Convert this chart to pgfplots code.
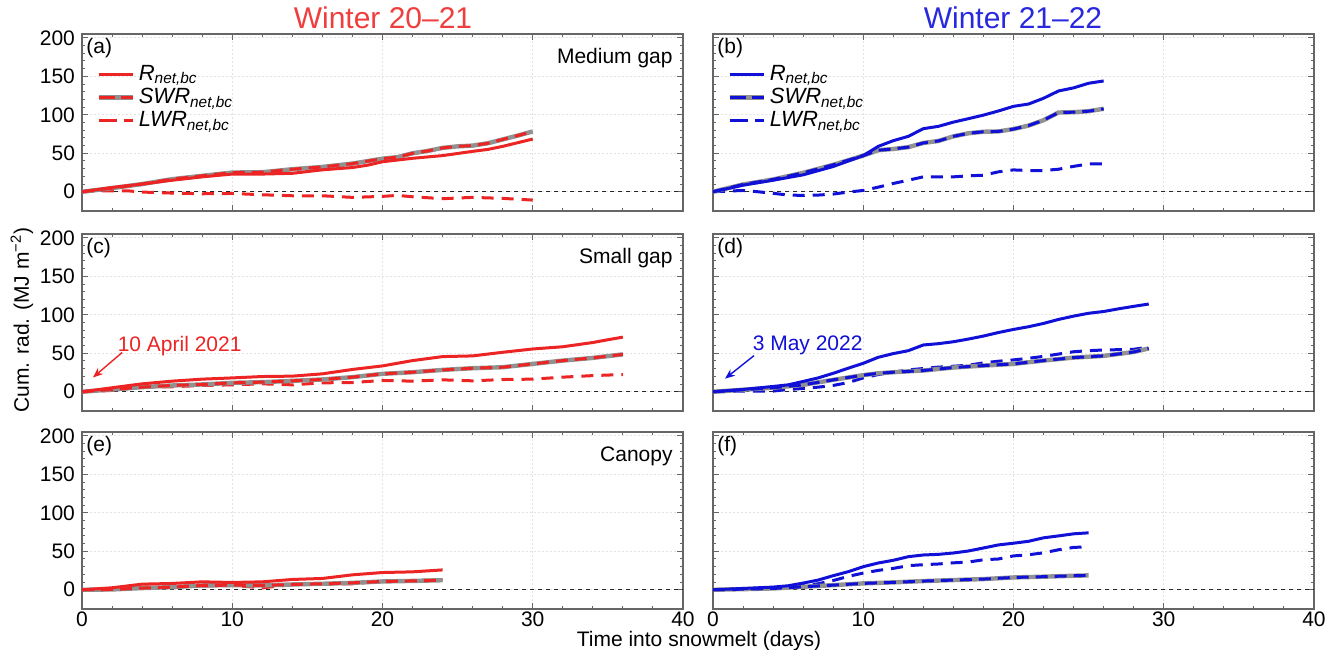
\documentclass[border=0pt]{standalone}
\usepackage{fontspec}
\setmainfont{Liberation Sans}
\usepackage{pgfplots}
\pgfplotsset{compat=1.18}
\usetikzlibrary{arrows.meta}
\definecolor{cred}{RGB}{236,36,36}
\definecolor{cblue}{RGB}{16,16,214}
\definecolor{tred}{RGB}{240,62,62}
\definecolor{tblue}{RGB}{40,40,222}
\definecolor{cgray}{RGB}{145,145,145}
\newcommand{\fs}{\fontsize{10.5}{12}\selectfont}
\newcommand{\fl}{\fontsize{11}{13}\selectfont}
\pgfplotsset{
  panel/.style={
    scale only axis, width=300.5pt, height=88.5pt,
    xmin=0, xmax=40, ymin=-25, ymax=205,
    xtick={0,10,20,30,40}, ytick={0,50,100,150,200},
    minor x tick num=4, minor y tick num=4,
    grid=major, major grid style={black!11, dash pattern=on 1pt off 1pt, line width=0.4pt},
    axis line style={black!60, line width=0.6pt},
    tick style={black!60, line width=0.5pt},
    major tick length=3pt, minor tick length=1.6pt,
    tick align=inside,
    ticklabel style={font=\fs, text=black},
    xticklabel style={yshift=2pt},
    /pgf/number format/assume math mode=true,
    anchor=north west,
    legend style={draw=none, fill=none, at={(rel axis cs:0.02,0.86)}, anchor=north west,
      font=\fl, row sep=-1.5pt, inner sep=1pt,
      /tikz/every even column/.append style={column sep=3pt}},
    legend cell align=left,
  },
  noxl/.style={xticklabels={}},
  noyl/.style={yticklabels={}},
  zeroline/.style={black!85, dash pattern=on 2pt off 2pt, line width=0.6pt, forget plot},
  Rl/.style={line width=1.5pt, forget plot},
  SWRbg/.style={cgray, line width=2.2pt, forget plot},
  SWRfg/.style={line width=1.5pt, dash pattern=on 6pt off 3.5pt, forget plot},
  LWRl/.style={line width=1.5pt, dash pattern=on 6pt off 4pt, forget plot},
}
\newcommand{\Rlab}{\textit{R}\textsubscript{\textit{net,bc}}}
\newcommand{\Slab}{\textit{SWR}\textsubscript{\textit{net,bc}}}
\newcommand{\Llab}{\textit{LWR}\textsubscript{\textit{net,bc}}}

% ---------------- data ----------------
\pgfplotstableread{
x y
0 0
2 5.6
4 10
6 15
8 19.4
10 23
12 23
14 24
16 28.5
18 31.5
19 34.5
20 39
22 43.5
24 47
26 52.5
27 55
28 59
30 68.5
}\aR
\pgfplotstableread{
x y
0 0
2 4.7
4 10
6 16.4
8 20.7
10 25
12 25.4
14 29.3
16 32.3
18 36.6
20 43
21 45
22 50
23 53
24 57
25 59
26 60
27 63
28 68
29 73
30 78.4
}\aS
\pgfplotstableread{
x y
0 0
1 1
2 1.3
3 1.3
4 -0.4
6 -1.7
8 -2.6
10 -2.2
12 -3.9
14 -5.2
16 -5.2
18 -7.3
20 -6
21 -4.7
22 -6.5
24 -9
26 -7.3
28 -8.6
30 -10.8
}\aL
\pgfplotstableread{
x y
0 0
2 8.6
4 15
6 22
8 32.8
10 47
11 59
12 66.4
13 72
14 82
15 85
16 90.5
17 95
18 99.6
19 105
20 111
21 114
22 121.5
23 131
24 135
25 141
26 144
}\bR
\pgfplotstableread{
x y
0 0
2 9.5
4 16
6 24.6
8 35
10 47
11 54
12 55.6
13 58
14 63.4
15 66
16 72
17 76
18 78
19 78.4
20 81.5
21 86
22 93
23 103
24 103.4
25 104.7
26 107.8
}\bS
\pgfplotstableread{
x y
0 0
2 1.7
3 0
4 -2
5 -4.3
6 -4.7
7 -4.3
8 -3
9 -0.4
10 1.7
11 6
12 10.8
13 15
14 19.4
15 19.4
16 19.4
17 20.7
18 21.5
19 25.9
20 28.4
21 27.6
22 27.6
23 29.3
24 33
25 36.2
26 36.2
}\bL
\pgfplotstableread{
x y
0 0
2 5.2
4 10.3
6 13.8
8 16.4
10 18
12 19.8
14 20.3
16 23.3
18 29
20 33.6
22 40.5
24 45.7
26 46.6
28 51.3
30 55.6
32 58.5
34 64
35 67.6
36 71
}\cR
\pgfplotstableread{
x y
0 0
2 3
4 6
6 8.2
8 9.5
10 11.6
12 12.5
14 14.2
16 16
18 19
20 23.3
22 25.4
24 28.4
26 30.6
28 31.9
30 36.2
32 40.5
34 44
36 48.6
}\cS
\pgfplotstableread{
x y
0 0
2 1.7
4 6
6 6.5
8 8.2
10 9
12 10.3
14 9
16 11.6
18 12
20 14.7
22 13.8
24 15.5
26 14.2
28 15.9
30 16.4
32 19
34 21
36 22.4
}\cL
\pgfplotstableread{
x y
0 0
2 3
4 6.9
5 9
6 13.4
7 18
8 24
9 30.6
10 37
11 44.8
12 49.6
13 53.4
14 60.8
15 62.5
16 65
17 68.5
18 72.4
19 77
20 81
21 84.5
22 88.8
23 94
24 98.3
25 102
26 104.3
27 107.8
28 111
29 114
}\dR
\pgfplotstableread{
x y
0 0
2 2.6
4 5.2
6 9
8 15.5
10 21.6
11 24
12 25.4
14 27.6
16 31.5
18 34
20 36.2
22 40.5
24 44.4
26 46.6
28 51.7
29 56.3
}\dS
\pgfplotstableread{
x y
0 0
2 0.9
3 0.9
4 0.9
5 3
6 4.3
7 6
8 8.2
9 12
10 18
11 22.4
12 25.4
13 28.4
14 30.2
15 32
16 33.2
17 34.5
18 37.5
19 39.7
20 41.4
21 43.5
22 46
23 49
24 52
25 53.4
26 54.3
27 54.7
28 55.2
29 58
}\dL
\pgfplotstableread{
x y
0 0
2 2.6
4 7.3
6 8.2
8 10.3
10 9.5
12 10.3
14 13.4
16 14.7
18 19.4
20 22.4
22 23.3
24 25.8
}\eR
\pgfplotstableread{
x y
0 0
2 0.4
4 2.2
6 3.4
8 5.6
10 6
12 5.6
14 6.9
16 7.8
18 9
20 10.8
22 11.5
24 12.4
}\eS
\pgfplotstableread{
x y
0 0
2 0.4
4 3.4
6 3.9
8 4.7
10 5.6
12 2.6
14 6.5
16 7.3
18 7.8
20 11.2
22 12
24 13
}\eL
\pgfplotstableread{
x y
0 0
2 1.7
4 3.5
5 5.2
6 8.7
7 12.6
8 18.3
9 23.5
10 30
11 34.8
12 38.3
13 43
14 45.2
15 46
16 47.8
17 50.4
18 54.3
19 58.3
20 60.5
21 63
22 67.5
23 70
24 72.7
25 74
}\fR
\pgfplotstableread{
x y
0 0
2 0.8
4 1.7
6 3.9
8 6
10 8.3
12 9.6
14 11.3
16 12.6
18 13.9
20 16
22 17
24 18.2
25 18.7
}\fS
\pgfplotstableread{
x y
0 0
2 0.5
4 1.7
5 2
6 5.2
7 7.8
8 12
9 17.4
10 21.7
11 25.2
12 27.8
13 31.3
14 32.6
15 33.5
16 35
17 36
18 39
19 40
20 44
21 45.5
22 48
23 52
24 55
25 56
}\fL

\begin{document}
\begin{tikzpicture}
% ---- (a)
\begin{axis}[panel, noxl, at={(41pt,-17pt)}]
\addplot[zeroline] coordinates {(0,0) (40,0)};
\addplot[cred, LWRl] table {\aL};
\addplot[SWRbg] table {\aS};
\addplot[cred, SWRfg] table {\aS};
\addplot[cred, Rl] table {\aR};
\addlegendimage{cred, line width=1.5pt}
\addlegendentry{\Rlab}
\addlegendimage{legend image code/.code={\draw[cgray,line width=2.2pt] (0pt,0pt) -- (17pt,0pt); \draw[cred,line width=1.5pt,dash pattern=on 8pt off 3pt] (0pt,0pt) -- (17pt,0pt);}}
\addlegendentry{\Slab}
\addlegendimage{cred, line width=1.5pt, dash pattern=on 9pt off 3.5pt}
\addlegendentry{\Llab}
\node[anchor=north west, inner sep=2pt, font=\fs] at (rel axis cs:0,1) {(a)};
\node[anchor=north east, inner sep=0pt, font=\fs] at ([xshift=-5pt,yshift=-7pt]rel axis cs:1,1) {Medium gap};
\end{axis}
% ---- (b)
\begin{axis}[panel, noxl, noyl, at={(356.5pt,-17pt)}]
\addplot[zeroline] coordinates {(0,0) (40,0)};
\addplot[cblue, LWRl] table {\bL};
\addplot[SWRbg] table {\bS};
\addplot[cblue, SWRfg] table {\bS};
\addplot[cblue, Rl] table {\bR};
\addlegendimage{cblue, line width=1.5pt}
\addlegendentry{\Rlab}
\addlegendimage{legend image code/.code={\draw[cgray,line width=2.2pt] (0pt,0pt) -- (17pt,0pt); \draw[cblue,line width=1.5pt,dash pattern=on 8pt off 3pt] (0pt,0pt) -- (17pt,0pt);}}
\addlegendentry{\Slab}
\addlegendimage{cblue, line width=1.5pt, dash pattern=on 9pt off 3.5pt}
\addlegendentry{\Llab}
\node[anchor=north west, inner sep=2pt, font=\fs] at (rel axis cs:0,1) {(b)};
\end{axis}
% ---- (c)
\begin{axis}[panel, noxl, at={(41pt,-117pt)}]
\addplot[zeroline] coordinates {(0,0) (40,0)};
\addplot[cred, LWRl] table {\cL};
\addplot[SWRbg] table {\cS};
\addplot[cred, SWRfg] table {\cS};
\addplot[cred, Rl] table {\cR};
\node[anchor=north west, inner sep=2pt, font=\fs] at (rel axis cs:0,1) {(c)};
\node[anchor=north east, inner sep=0pt, font=\fs] at ([xshift=-5pt,yshift=-7pt]rel axis cs:1,1) {Small gap};
\node[text=cred, font=\fs, inner sep=0pt] at (axis cs:6.5,60) {10 April 2021};
\draw[cred, line width=0.7pt, -{Stealth[length=5pt,width=4pt]}] (axis cs:2.67,51) -- (axis cs:0.73,18.6);
\end{axis}
% ---- (d)
\begin{axis}[panel, noxl, noyl, at={(356.5pt,-117pt)}]
\addplot[zeroline] coordinates {(0,0) (40,0)};
\addplot[cblue, LWRl] table {\dL};
\addplot[SWRbg] table {\dS};
\addplot[cblue, SWRfg] table {\dS};
\addplot[cblue, Rl] table {\dR};
\node[anchor=north west, inner sep=2pt, font=\fs] at (rel axis cs:0,1) {(d)};
\node[text=cblue, font=\fs, inner sep=0pt] at (axis cs:6.3,60) {3 May 2022};
\draw[cblue, line width=0.7pt, -{Stealth[length=5pt,width=4pt]}] (axis cs:2.73,47) -- (axis cs:0.8,17);
\end{axis}
% ---- (e)
\begin{axis}[panel, at={(41pt,-216pt)}]
\addplot[zeroline] coordinates {(0,0) (40,0)};
\addplot[cred, LWRl] table {\eL};
\addplot[SWRbg] table {\eS};
\addplot[cred, SWRfg] table {\eS};
\addplot[cred, Rl] table {\eR};
\node[anchor=north west, inner sep=2pt, font=\fs] at (rel axis cs:0,1) {(e)};
\node[anchor=north east, inner sep=0pt, font=\fs] at ([xshift=-5pt,yshift=-7pt]rel axis cs:1,1) {Canopy};
\end{axis}
% ---- (f)
\begin{axis}[panel, noyl, at={(356.5pt,-216pt)}]
\addplot[zeroline] coordinates {(0,0) (40,0)};
\addplot[cblue, LWRl] table {\fL};
\addplot[SWRbg] table {\fS};
\addplot[cblue, SWRfg] table {\fS};
\addplot[cblue, Rl] table {\fR};
\node[anchor=north west, inner sep=2pt, font=\fs] at (rel axis cs:0,1) {(f)};
\end{axis}
% ---- titles and labels
\node[text=tred, font=\fontsize{15}{17}\selectfont] at (191.5pt,-9pt) {Winter 20--21};
\node[text=tblue, font=\fontsize{15}{17}\selectfont] at (506.5pt,-9pt) {Winter 21--22};
\node[rotate=90, font=\fs] at (11pt,-160pt) {Cum. rad. (MJ m\textsuperscript{−2})};
\node[font=\fs, inner sep=0pt] at (349.5pt,-320.3pt) {Time into snowmelt (days)};
\pgfresetboundingbox
\path (0,0) rectangle (664.5pt,-324.5pt);
\end{tikzpicture}
\end{document}
